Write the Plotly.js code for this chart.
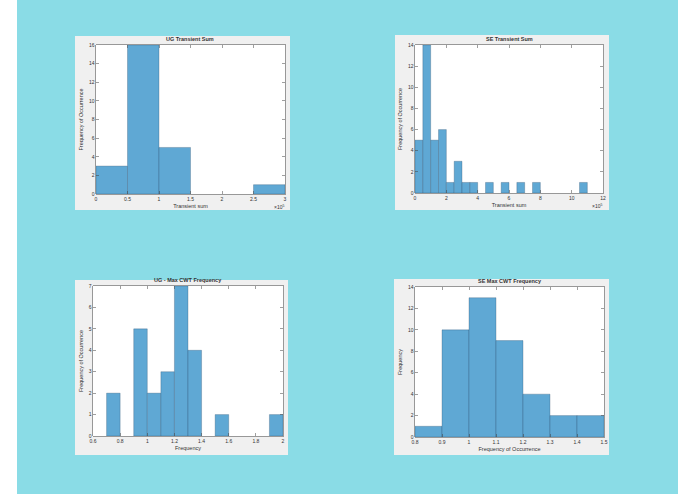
<!DOCTYPE html>
<html>
<head>
<meta charset="utf-8">
<script src="https://cdn.plot.ly/plotly-3.0.1.min.js"></script>
<style>html,body{margin:0;padding:0;background:#fff;}#chart{width:695px;height:494px;}</style>
</head>
<body>
<div id="chart"></div>
<script>
// ---- Data (bin left edges, bin width, counts) ----
const ugSumBinStart = [0, 0.5, 1.0, 2.5];
const ugSumCounts   = [3, 16, 5, 1];
const ugSumBinWidth = 0.5;

const seSumBinStart = [0, 0.5, 1.0, 1.5, 2.0, 2.5, 3.0, 3.5, 4.5, 5.5, 6.5, 7.5, 10.5];
const seSumCounts   = [5, 14, 5, 6, 1, 3, 1, 1, 1, 1, 1, 1, 1];
const seSumBinWidth = 0.5;

const ugCwtBinStart = [0.7, 0.9, 1.0, 1.1, 1.2, 1.3, 1.5, 1.9];
const ugCwtCounts   = [2, 5, 2, 3, 7, 4, 1, 1];
const ugCwtBinWidth = 0.1;

const seCwtBinStart = [0.8, 0.9, 1.0, 1.1, 1.2, 1.3, 1.4];
const seCwtCounts   = [1, 10, 13, 9, 4, 2, 2];
const seCwtBinWidth = 0.1;

const titles = ["UG Transient Sum", "SE Transient Sum", "UG - Max CWT Frequency", "SE Max CWT Frequency"];
const xTitles = ["Transient sum", "Transient sum", "Frequency", "Frequency of Occurrence"];
const yTitles = ["Frequency of Occurrence", "Frequency of Occurrence", "Frequency of Occurrence", "Frequency"];

// ---- Layout geometry (pixels) ----
const W = 695, H = 494;
const px = v => v / W, py = v => 1 - v / H;
const plots = [
  {box:[75,36,290,210], area:[96,45,285,194], xr:[0,3], dx:0.5, yr:[0,16], dy:2, exp:true},
  {box:[395,35,609,210], area:[415,45,603,193], xr:[0,12], dx:2, yr:[0,14], dy:2, exp:true},
  {box:[75,280,288,455], area:[93,286,283,436], xr:[0.6,2], dx:0.2, yr:[0,7], dy:1, exp:false},
  {box:[394,279,609,455], area:[415,287,604,437], xr:[0.8,1.5], dx:0.1, yr:[0,14], dy:2, exp:false}
];
const series = [
  [ugSumBinStart, ugSumCounts, ugSumBinWidth],
  [seSumBinStart, seSumCounts, seSumBinWidth],
  [ugCwtBinStart, ugCwtCounts, ugCwtBinWidth],
  [seCwtBinStart, seCwtCounts, seCwtBinWidth]
];

const FONT = "Liberation Sans, Arial, sans-serif";
const traces = [];
const layout = {
  width: W, height: H,
  margin: {l:0, r:0, t:0, b:0},
  paper_bgcolor: "#ffffff",
  plot_bgcolor: "#ffffff",
  showlegend: false,
  font: {family: FONT, color: "#333333", size: 5},
  shapes: [{type:"rect", xref:"paper", yref:"paper", x0:px(17), x1:px(678), y0:0, y1:1,
            fillcolor:"#8adce6", line:{width:0}, layer:"below"}],
  annotations: []
};

plots.forEach((p, i) => {
  const n = i + 1;
  const xa = n === 1 ? "xaxis" : "xaxis" + n;
  const ya = n === 1 ? "yaxis" : "yaxis" + n;
  const [starts, counts, w] = series[i];
  traces.push({
    type: "bar",
    x: starts.map(s => s + w / 2),
    y: counts,
    width: starts.map(() => w),
    xaxis: "x" + (n === 1 ? "" : n),
    yaxis: "y" + (n === 1 ? "" : n),
    marker: {color: "#5fa8d4", line: {color: "rgba(40,70,100,0.55)", width: 0.5}},
    hoverinfo: "x+y"
  });
  layout.shapes.push({type:"rect", xref:"paper", yref:"paper",
    x0:px(p.box[0]), x1:px(p.box[2]), y0:py(p.box[3]), y1:py(p.box[1]),
    fillcolor:"#f0f0f0", line:{width:0}, layer:"below"});
  layout.shapes.push({type:"rect", xref:"paper", yref:"paper",
    x0:px(p.area[0]), x1:px(p.area[2]), y0:py(p.area[3]), y1:py(p.area[1]),
    fillcolor:"#ffffff", line:{width:0}, layer:"below"});
  const axCommon = {
    showgrid:false, zeroline:false, showline:true, mirror:"ticks",
    linecolor:"#404040", linewidth:0.5, ticks:"inside", ticklen:3,
    tickcolor:"#404040", tickwidth:0.5,
    tickfont:{size:5, family:FONT, color:"#333333"}, fixedrange:true
  };
  layout[xa] = Object.assign({}, axCommon, {
    domain:[px(p.area[0]), px(p.area[2])], range:p.xr, tick0:p.xr[0], dtick:p.dx,
    anchor:"y" + (n === 1 ? "" : n),
    title:{text:xTitles[i], font:{size:5.5, family:FONT, color:"#333333"}, standoff:3}
  });
  layout[ya] = Object.assign({}, axCommon, {
    domain:[py(p.area[3]), py(p.area[1])], range:p.yr, tick0:0, dtick:p.dy,
    anchor:"x" + (n === 1 ? "" : n),
    title:{text:yTitles[i], font:{size:5.5, family:FONT, color:"#333333"}, standoff:4}
  });
  layout.annotations.push({xref:"paper", yref:"paper", x:px((p.area[0]+p.area[2])/2),
    y:py(p.area[1]-1), yanchor:"bottom", xanchor:"center", showarrow:false,
    text:"<b>" + titles[i] + "</b>", font:{size:5.5, family:FONT, color:"#333333"}});
  if (p.exp) {
    layout.annotations.push({xref:"paper", yref:"paper", x:px(p.area[2]+1),
      y:py(p.area[3]+8), xanchor:"right", yanchor:"top", showarrow:false,
      text:"×10<sup>5</sup>", font:{size:5, family:FONT, color:"#333333"}});
  }
});

Plotly.newPlot("chart", traces, layout, {displayModeBar:false, staticPlot:true});
</script>
</body>
</html>
